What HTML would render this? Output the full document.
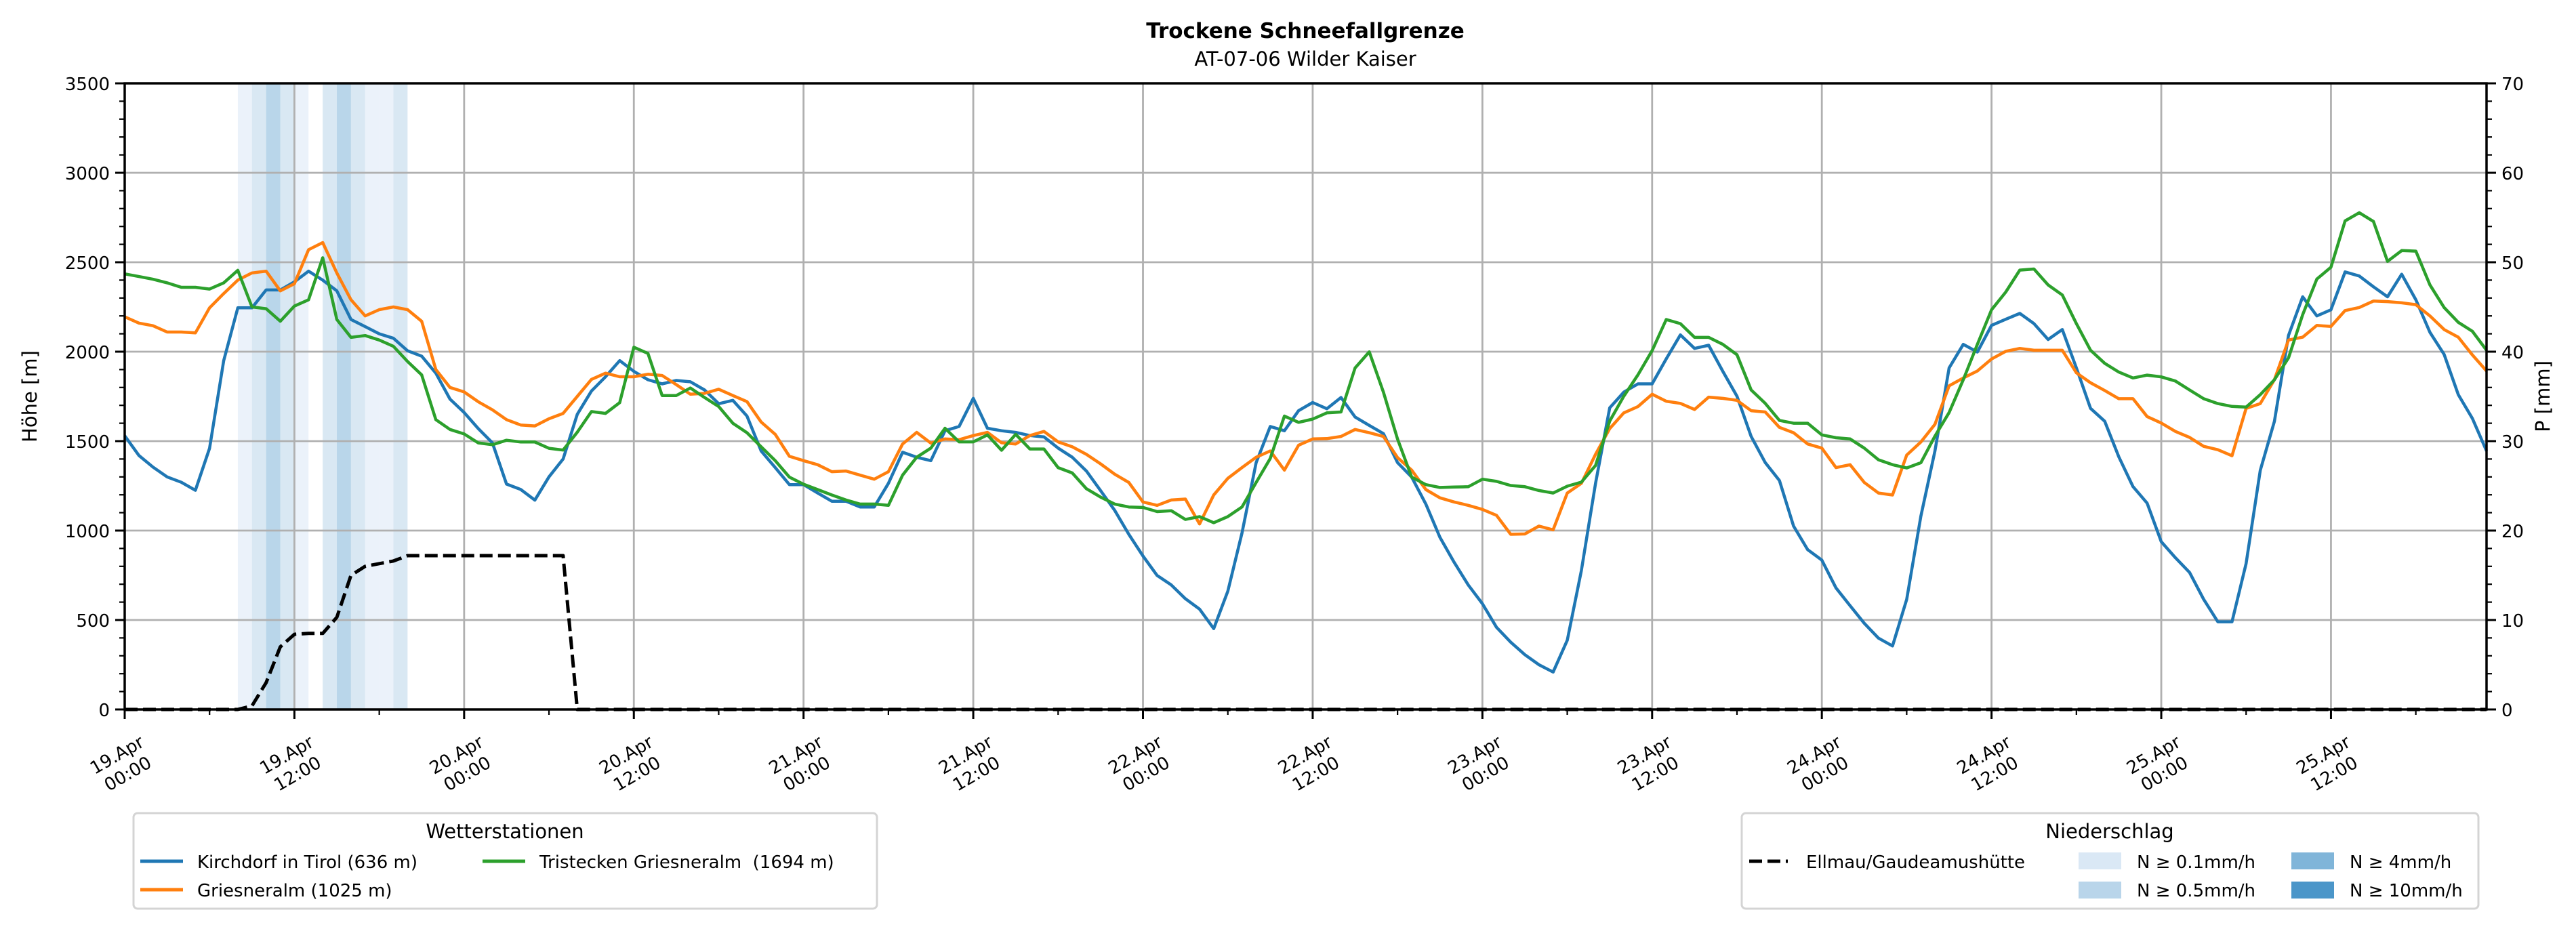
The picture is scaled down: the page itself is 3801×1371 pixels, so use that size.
<!DOCTYPE html>
<html><head><meta charset="utf-8"><style>
html,body{margin:0;padding:0;background:#fff;}
svg{display:block;font-family:"DejaVu Sans","Liberation Sans",sans-serif;}
</style></head><body>
<svg id="chart" width="3801" height="1371" viewBox="0 0 3801 1371" xmlns="http://www.w3.org/2000/svg">
<rect width="3801" height="1371" fill="#fff"/>
<text x="1926" y="56" text-anchor="middle" font-size="31" font-weight="bold">Trockene Schneefallgrenze</text>
<text x="1926" y="97" text-anchor="middle" font-size="29">AT-07-06 Wilder Kaiser</text>
<g id="bands"></g><g id="grid"></g><g id="series"></g><g id="axes"></g>
<text transform="translate(54,585) rotate(-90)" text-anchor="middle" font-size="29">Höhe [m]</text>
<text transform="translate(3762,585) rotate(-90)" text-anchor="middle" font-size="29">P [mm]</text>
<g>
<rect x="197" y="1200" width="1097" height="141" rx="6" fill="#fff" stroke="#d4d4d4" stroke-width="3"/>
<text x="745" y="1237" text-anchor="middle" font-size="29">Wetterstationen</text>
<g><line x1="207" y1="1271" x2="270" y2="1271" stroke="#1f77b4" stroke-width="5"/><text x="291" y="1281" font-size="26">Kirchdorf in Tirol (636 m)</text></g>
<g><line x1="207" y1="1313" x2="270" y2="1313" stroke="#ff7f0e" stroke-width="5"/><text x="291" y="1323" font-size="26">Griesneralm (1025 m)</text></g>
<g><line x1="712" y1="1271" x2="775" y2="1271" stroke="#2ca02c" stroke-width="5"/><text x="796" y="1281" font-size="26">Tristecken Griesneralm &#160;(1694 m)</text></g>
</g>
<g>
<rect x="2570" y="1200" width="1087" height="141" rx="6" fill="#fff" stroke="#d4d4d4" stroke-width="3"/>
<text x="3113" y="1237" text-anchor="middle" font-size="29">Niederschlag</text>
<g><line x1="2581" y1="1271" x2="2638" y2="1271" stroke="#000" stroke-width="5" stroke-dasharray="19 8"/><text x="2665" y="1281" font-size="26">Ellmau/Gaudeamushütte</text></g>
<g><rect x="3067" y="1258" width="63" height="25" fill="#dae8f5"/><text x="3153" y="1281" font-size="26">N ≥ 0.1mm/h</text></g>
<g><rect x="3067" y="1301" width="63" height="25" fill="#b9d5ea"/><text x="3153" y="1323" font-size="26">N ≥ 0.5mm/h</text></g>
<g><rect x="3381" y="1258" width="63" height="25" fill="#80b5d9"/><text x="3467" y="1281" font-size="26">N ≥ 4mm/h</text></g>
<g><rect x="3381" y="1301" width="63" height="25" fill="#4b96c9"/><text x="3467" y="1323" font-size="26">N ≥ 10mm/h</text></g>
</g>
</svg>
<script>
const kirchdorf=[1530,1420,1355,1300,1270,1225,1460,1950,2245,2245,2345,2345,2390,2450,2400,2340,2180,2140,2100,2075,2005,1975,1880,1735,1660,1570,1490,1260,1230,1170,1300,1400,1650,1780,1860,1950,1890,
1843,1820,1839,1832,1786,1709,1728,1640,1445,1352,1257,1257,1210,1164,1164,1132,1132,1264,1438,1410,1391,1558,1582,1739,1572,1558,1549,1531,1524,1461,1410,1333,1224,1113,979,858,749,696,619,561,452,661,986,1380,1582,1558,
1670,1716,1681,1744,1635,1588,1542,1380,1299,1148,962,823,696,591,459,376,306,250,209,387,777,1264,1686,1774,1820,1820,1960,2094,2018,2036,1890,1751,1526,1380,1280,1025,893,835,679,580,482,399,355,615,
1080,1445,1909,2041,1998,2147,2181,2214,2157,2068,2124,1909,1683,1611,1412,1246,1153,938,848,766,616,490,490,815,1336,1611,2091,2307,2200,2234,2446,2423,2363,2307,2433,2290,2108,1985,1760,1627,1445];
const griesneralm=[2195,2160,2145,2110,2110,2105,2245,2325,2400,2440,2450,2340,2380,2570,2610,2440,2290,2200,2235,2250,2235,2170,1900,1800,1775,1720,1675,1620,1590,1585,1625,1655,1750,1845,1880,1860,1860,
1874,1867,1816,1762,1767,1790,1755,1721,1607,1538,1415,1391,1368,1329,1333,1310,1287,1329,1484,1549,1489,1512,1508,1531,1549,1491,1484,1531,1554,1496,1468,1426,1373,1315,1269,1160,1141,1171,1176,1037,1199,1292,1352,1410,1445,1338,
1477,1512,1514,1526,1565,1547,1526,1408,1338,1229,1183,1160,1141,1118,1085,979,981,1025,1004,1210,1264,1426,1570,1658,1693,1762,1723,1711,1677,1746,1739,1728,1670,1663,1577,1547,1484,1461,1352,1368,1269,1210,1199,1422,
1495,1594,1809,1853,1892,1959,2002,2018,2008,2008,2008,1882,1826,1783,1737,1737,1637,1601,1554,1521,1471,1452,1418,1683,1710,1843,2065,2081,2147,2141,2230,2247,2283,2280,2273,2263,2200,2124,2081,1982,1892];
const tristecken=[2435,2420,2405,2385,2360,2360,2350,2385,2455,2250,2240,2170,2255,2290,2525,2180,2080,2090,2065,2030,1945,1870,1620,1565,1540,1490,1480,1505,1495,1495,1460,1450,1550,1665,1655,1715,2025,1990,
1755,1755,1797,1744,1693,1600,1547,1468,1391,1299,1259,1229,1199,1171,1148,1148,1141,1310,1410,1461,1572,1496,1496,1535,1449,1538,1456,1456,1352,1322,1234,1187,1148,1132,1129,1106,1111,1062,1078,1044,1078,1132,1269,1403,1640,
1605,1623,1658,1663,1909,1999,1774,1512,1299,1257,1241,1243,1245,1287,1275,1252,1245,1224,1210,1248,1271,1364,1612,1751,1871,2006,2180,2157,2080,2080,2041,1983,1786,1711,1616,1600,1600,1535,1519,1512,1461,1396,1368,1350,
1379,1528,1660,1843,2041,2234,2333,2456,2462,2373,2317,2157,2008,1935,1886,1853,1869,1859,1836,1786,1737,1710,1694,1690,1760,1843,1965,2207,2406,2472,2731,2777,2728,2505,2565,2562,2373,2247,2164,2114,2008];
const ellmauMM=[0,0,0,0,0,0,0,0,0,0.4,3.0,7.0,8.4,8.5,8.5,10.3,15.0,16.0,16.3,16.6,17.2,17.2,17.2,17.2,17.2,17.2,17.2,17.2,17.2,17.2,17.2,17.2,0,
0,0,0,0,0,0,0,0,0,0,0,0,0,0,0,
0,0,0,0,0,0,0,0,0,0,0,0,0,0,0,
0,0,0,0,0,0,0,0,0,0,0,0,0,0,0,
0,0,0,0,0,0,0,0,0,0,0,0,0,0,0,
0,0,0,0,0,0,0,0,0,0,0,0,0,0,0,
0,0,0,0,0,0,0,0,0,0,0,0,0,0,0,
0,0,0,0,0,0,0,0,0,0,0,0,0,0,0,
0,0,0,0,0,0,0,0,0,0,0,0,0,0,0,
0,0,0,0,0,0,0,0,0,0,0,0,0,0,0];
const precipHours=[8,9,10,11,12,14,15,16,17,18,19];
const precipRates=[0.2,1,5,1,0.2,1,5,1,0.2,0.2,1];
const xTickLabels=["19.Apr\n00:00","19.Apr\n12:00","20.Apr\n00:00","20.Apr\n12:00","21.Apr\n00:00","21.Apr\n12:00","22.Apr\n00:00","22.Apr\n12:00","23.Apr\n00:00","23.Apr\n12:00","24.Apr\n00:00","24.Apr\n12:00","25.Apr\n00:00","25.Apr\n12:00"];
const yTicksLeft=[0,500,1000,1500,2000,2500,3000,3500];
const yTicksRight=[0,10,20,30,40,50,60,70];

const NS="http://www.w3.org/2000/svg";
const L=184,R=3669,T=123,B=1047,XMAX=167,YMAX=3500,PMAX=70;
const xs=h=>L+h*(R-L)/XMAX;
const ys=v=>B-v/YMAX*(B-T);
const yp=p=>B-p/PMAX*(B-T);
function mk(tag,attrs,parent){const e=document.createElementNS(NS,tag);for(const k in attrs)e.setAttribute(k,attrs[k]);parent.appendChild(e);return e;}
const gB=document.getElementById('bands'),gG=document.getElementById('grid'),gS=document.getElementById('series'),gA=document.getElementById('axes');

precipHours.forEach((h,i)=>{
  const r=precipRates[i];
  const c=r>=10?'#4b96c9':r>=4?'#80b5d9':r>=0.5?'#b9d5ea':'#dae8f5';
  const e=mk('rect',{x:xs(h),y:T,width:xs(h+1)-xs(h),height:B-T,fill:c,'fill-opacity':0.55},gB);
  
  
});
xTickLabels.forEach((lab,i)=>{
  const x=xs(i*12);
  const g=mk('line',{x1:x,y1:T,x2:x,y2:B,stroke:'#b0b0b0','stroke-width':2.8},gG);
  
  
  const tk=mk('line',{x1:x,y1:B,x2:x,y2:B+14,stroke:'#000','stroke-width':3},gA);
  
  
  const parts=lab.split('\n');
  const t=mk('text',{transform:`translate(${x-4},1127) rotate(-30)`,'text-anchor':'middle','font-size':26},gA);
  
  
  mk('tspan',{x:0,y:-6},t).textContent=parts[0];
  mk('tspan',{x:0,y:26},t).textContent=parts[1];
  const mx=xs(i*12+6);
  if(i*12+6<=XMAX){const m=mk('line',{x1:mx,y1:B,x2:mx,y2:B+8,stroke:'#000','stroke-width':2.2},gA);
  
  }
});
yTicksLeft.forEach(v=>{
  const y=ys(v);
  if(v>0&&v<YMAX){const g=mk('line',{x1:L,y1:y,x2:R,y2:y,stroke:'#b0b0b0','stroke-width':2.8},gG);
  
  }
  mk('line',{x1:L-14,y1:y,x2:L,y2:y,stroke:'#000','stroke-width':3},gA);
  const t=mk('text',{x:L-22,y:y+10,'text-anchor':'end','font-size':26},gA);
  
  
  t.textContent=v;
});
for(let v=100;v<YMAX;v+=100){if(v%500)mk('line',{x1:L-8,y1:ys(v),x2:L,y2:ys(v),stroke:'#000','stroke-width':2.2},gA);}
yTicksRight.forEach(p=>{
  const y=yp(p);
  mk('line',{x1:R,y1:y,x2:R+14,y2:y,stroke:'#000','stroke-width':3},gA);
  const t=mk('text',{x:R+22,y:y+10,'text-anchor':'start','font-size':26},gA);
  
  
  t.textContent=p;
});
for(let p=2;p<PMAX;p+=2){if(p%10)mk('line',{x1:R,y1:yp(p),x2:R+8,y2:yp(p),stroke:'#000','stroke-width':2.2},gA);}

function line(arr,f,color,name,dash){
  const pts=arr.map((v,i)=>xs(i).toFixed(1)+','+f(v).toFixed(1)).join(' ');
  const e=mk('polyline',{points:pts,fill:'none',stroke:color,'stroke-width':dash?5:4.5,'stroke-linejoin':'round'},gS);
  if(dash)e.setAttribute('stroke-dasharray','19 8');
  
  
}
line(kirchdorf,ys,'#1f77b4','kirchdorf-line');
line(griesneralm,ys,'#ff7f0e','griesneralm-line');
line(tristecken,ys,'#2ca02c','tristecken-line');
line(ellmauMM,yp,'#000','ellmau-precip-line',true);
const frame=mk('rect',{x:L,y:T,width:R-L,height:B-T,fill:'none',stroke:'#000','stroke-width':3.5},gA);


</script>
</body></html>
